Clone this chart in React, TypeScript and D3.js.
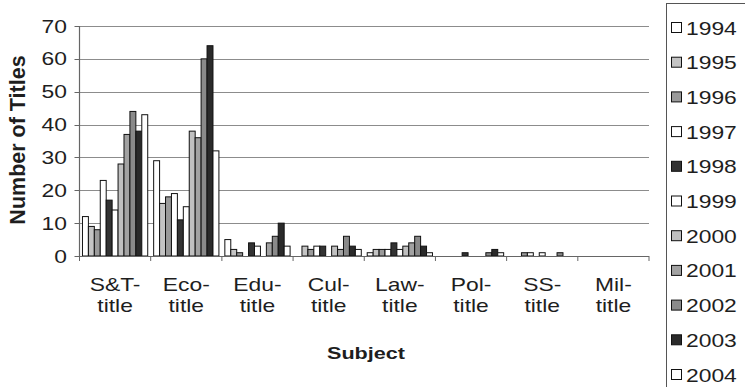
import React from "react";
import * as d3 from "d3";

const categories = ["S&T-title", "Eco-title", "Edu-title", "Cul-title", "Law-title", "Pol-title", "SS-title", "Mil-title"];
const years = ["1994", "1995", "1996", "1997", "1998", "1999", "2000", "2001", "2002", "2003", "2004"];

const titles1994 = [12, 29, 5, 0, 1, 0, 0, 0];
const titles1995 = [9, 16, 2, 3, 2, 0, 0, 0];
const titles1996 = [8, 18, 1, 2, 2, 0, 1, 0];
const titles1997 = [23, 19, 0, 3, 2, 0, 1, 0];
const titles1998 = [17, 11, 4, 3, 4, 1, 0, 0];
const titles1999 = [14, 15, 3, 0, 2, 0, 1, 0];
const titles2000 = [28, 38, 0, 3, 3, 0, 0, 0];
const titles2001 = [37, 36, 4, 2, 4, 0, 0, 0];
const titles2002 = [44, 60, 6, 6, 6, 1, 1, 0];
const titles2003 = [38, 64, 10, 3, 3, 2, 0, 0];
const titles2004 = [43, 32, 3, 2, 1, 1, 0, 0];

const series = [titles1994, titles1995, titles1996, titles1997, titles1998, titles1999, titles2000, titles2001, titles2002, titles2003, titles2004];
const yearFills = ["#ffffff", "#c4c4c4", "#9a9a9a", "#ffffff", "#333333", "#ffffff", "#c0c0c0", "#a2a2a2", "#8a8a8a", "#2a2a2a", "#ffffff"];
const yTicks = [0, 10, 20, 30, 40, 50, 60, 70];

const W = 745;
const H = 387;
const left = 79.5;
const right = 649;
const top = 26;
const bottom = 256;
const font = "'Liberation Sans', Arial, sans-serif";
const sx = 1.27; // horizontal stretch of the label type

function Label(props: { x: number; y: number; anchor?: string; size?: number; bold?: boolean; children: React.ReactNode }) {
  const { x, y, anchor = "start", size = 18, bold = false, children } = props;
  return (
    <text
      transform={`translate(${x},${y}) scale(${sx},1)`}
      textAnchor={anchor}
      fontSize={size}
      fontWeight={bold ? "bold" : "normal"}
      fill="#1e1e1e"
    >
      {children}
    </text>
  );
}

export default function App() {
  const x = d3.scaleBand<string>().domain(categories).range([left, right]).padding(0);
  const xi = d3.scaleBand<string>().domain(years).range([0, x.bandwidth()]).paddingInner(0).paddingOuter(0.5);
  const y = d3.scaleLinear().domain([0, 70]).range([bottom, top]);

  return (
    <svg width={W} height={H} style={{ position: "absolute", left: 0, top: 0, background: "#fff" }} fontFamily={font}>
      {/* gridlines */}
      {yTicks.filter((t) => t > 0).map((t) => (
        <line key={t} x1={left} x2={right} y1={Math.round(y(t)) + 0.5} y2={Math.round(y(t)) + 0.5} stroke="#8c8c8c" strokeWidth={1} />
      ))}
      {/* bars */}
      {series.map((vals, si) =>
        vals.map((v, ci) =>
          v > 0 ? (
            <rect
              key={`${si}-${ci}`}
              x={(x(categories[ci]) ?? 0) + (xi(years[si]) ?? 0)}
              y={y(v)}
              width={xi.bandwidth()}
              height={y(0) - y(v)}
              fill={yearFills[si]}
              stroke="#111"
              strokeWidth={1}
            />
          ) : null
        )
      )}
      {/* axes */}
      <line x1={left} x2={left} y1={top} y2={bottom} stroke="#666" strokeWidth={1.2} />
      <line x1={left} x2={right} y1={bottom + 0.5} y2={bottom + 0.5} stroke="#666" strokeWidth={1.2} />
      {yTicks.map((t) => (
        <g key={t}>
          <line x1={left - 5} x2={left} y1={Math.round(y(t)) + 0.5} y2={Math.round(y(t)) + 0.5} stroke="#666" />
          <Label x={67} y={y(t) + 6.5} anchor="end">{t}</Label>
        </g>
      ))}
      {categories.map((c, i) => (
        <line key={c} x1={left + i * x.step()} x2={left + i * x.step()} y1={bottom} y2={bottom + 5} stroke="#666" />
      ))}
      <line x1={right} x2={right} y1={bottom} y2={bottom + 5} stroke="#666" />
      {categories.map((c) => {
        const cx = (x(c) ?? 0) + x.bandwidth() / 2;
        const [a, b] = c.split("-");
        return (
          <g key={c}>
            <Label x={cx} y={291} anchor="middle">{a}-</Label>
            <Label x={cx} y={312} anchor="middle">{b}</Label>
          </g>
        );
      })}
      <Label x={366} y={359} anchor="middle" size={17} bold>Subject</Label>
      <text transform="translate(25,140) rotate(-90)" textAnchor="middle" fontSize={21.5} fontWeight="bold" fill="#1e1e1e">Number of Titles</text>
      {/* legend */}
      <rect x={666.5} y={3.5} width={90} height={385} fill="#fff" stroke="#555" strokeWidth={1} />
      {years.map((yr, i) => {
        const cy = 28 + i * 34.7;
        return (
          <g key={yr}>
            <rect x={671.5} y={cy - 5.5} width={10} height={10} fill={yearFills[i]} stroke="#111" />
            <Label x={686} y={cy + 6.5}>{yr}</Label>
          </g>
        );
      })}
    </svg>
  );
}
